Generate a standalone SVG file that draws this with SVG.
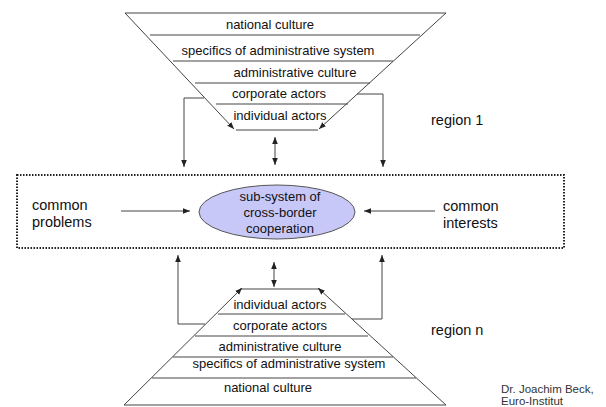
<svg xmlns="http://www.w3.org/2000/svg" width="606" height="407" viewBox="0 0 606 407">
  <style>
    .ln { stroke: #444; stroke-width: 1; fill: none; }
    .lv { font-family: "Liberation Sans", Arial, sans-serif; font-size: 13px; fill: #111; text-anchor: middle; }
    .lb { font-family: "Liberation Sans", Arial, sans-serif; font-size: 14.5px; fill: #111; }
    .sm { font-family: "Liberation Sans", Arial, sans-serif; font-size: 11.5px; fill: #333; }
  </style>
  <defs>
    <marker id="ah" viewBox="0 0 10 10" refX="10" refY="5" markerWidth="7" markerHeight="7" orient="auto-start-reverse" markerUnits="userSpaceOnUse">
      <path d="M0,1 L10,5 L0,9 z" fill="#222"/>
    </marker>
  </defs>
  <rect width="606" height="407" fill="#fff"/>

  <!-- upper funnel: region 1 -->
  <g id="region1">
    <line class="ln" x1="125" y1="13" x2="446" y2="13"/>
    <line class="ln" x1="150" y1="35" x2="420" y2="35"/>
    <line class="ln" x1="173" y1="61" x2="393" y2="61"/>
    <line class="ln" x1="195" y1="83" x2="370" y2="83"/>
    <line class="ln" x1="216" y1="104" x2="348" y2="104"/>
    <line class="ln" x1="236" y1="130" x2="318" y2="130"/>
    <line class="ln" x1="125" y1="13" x2="234" y2="129" marker-end="url(#ah)"/>
    <line class="ln" x1="446" y1="13" x2="319" y2="129" marker-end="url(#ah)"/>
    <text class="lv" x="270" y="29">national culture</text>
    <text class="lv" x="278" y="55">specifics of administrative system</text>
    <text class="lv" x="295" y="77">administrative culture</text>
    <text class="lv" x="279" y="98">corporate actors</text>
    <text class="lv" x="280" y="120">individual actors</text>
    <text class="lb" x="431" y="125">region 1</text>
  </g>

  <!-- central sub-system box -->
  <g id="subsystem">
    <rect x="17" y="175" width="547" height="73" fill="none" stroke="#222" stroke-width="2" stroke-dasharray="1.5 1.5"/>
    <ellipse cx="277" cy="212" rx="78" ry="27" fill="#c8c8f8" stroke="#555" stroke-width="1"/>
    <text class="lv" x="280" y="201">sub-system of</text>
    <text class="lv" x="280" y="217">cross-border</text>
    <text class="lv" x="280" y="233">cooperation</text>
  </g>
  <g id="problems">
    <text class="lb" x="32" y="210">common</text>
    <text class="lb" x="32" y="227">problems</text>
  </g>
  <g id="interests">
    <text class="lb" x="443" y="211">common</text>
    <text class="lb" x="443" y="228">interests</text>
  </g>

  <!-- lower pyramid: region n -->
  <g id="regionN">
    <line class="ln" x1="240" y1="289" x2="320" y2="289"/>
    <line class="ln" x1="218" y1="314" x2="345" y2="314"/>
    <line class="ln" x1="195" y1="336" x2="368" y2="336"/>
    <line class="ln" x1="173" y1="357" x2="393" y2="357"/>
    <line class="ln" x1="152" y1="378" x2="416" y2="378"/>
    <line class="ln" x1="124" y1="405" x2="446" y2="405"/>
    <line class="ln" x1="124" y1="405" x2="242" y2="288" marker-end="url(#ah)"/>
    <line class="ln" x1="446" y1="405" x2="318" y2="288" marker-end="url(#ah)"/>
    <text class="lv" x="280" y="309">individual actors</text>
    <text class="lv" x="280" y="330">corporate actors</text>
    <text class="lv" x="280" y="351">administrative culture</text>
    <text class="lv" x="289" y="368">specifics of administrative system</text>
    <text class="lv" x="268" y="392">national culture</text>
    <text class="lb" x="431" y="335">region n</text>
  </g>

  <g id="credit">
    <text class="sm" x="501" y="393">Dr. Joachim Beck,</text>
    <text class="sm" x="501" y="405">Euro-Institut</text>
  </g>

  <!-- connectors -->
  <g id="connectors" class="ln">
    <polyline class="ln" points="204,98 184,98 184,167" marker-end="url(#ah)"/>
    <polyline class="ln" points="357,94 383,94 383,167" marker-end="url(#ah)"/>
    <line class="ln" x1="275" y1="137" x2="275" y2="165" marker-start="url(#ah)" marker-end="url(#ah)"/>
    <line class="ln" x1="121" y1="211" x2="190" y2="211" marker-end="url(#ah)"/>
    <line class="ln" x1="435" y1="211" x2="364" y2="211" marker-end="url(#ah)"/>
    <polyline class="ln" points="205,324 178,324 178,255" marker-end="url(#ah)"/>
    <polyline class="ln" points="352,319 382,319 382,255" marker-end="url(#ah)"/>
    <line class="ln" x1="274" y1="262" x2="274" y2="287" marker-start="url(#ah)" marker-end="url(#ah)"/>
  </g>
</svg>
